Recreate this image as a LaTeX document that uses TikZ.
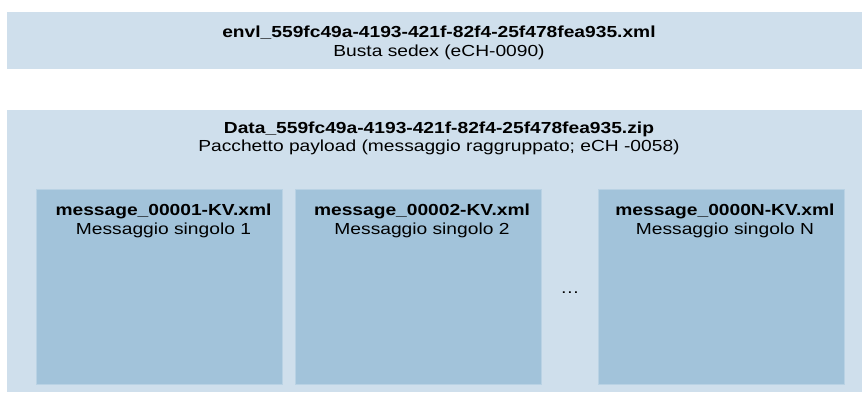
\documentclass[tikz,border=0pt]{standalone}
\usepackage{fontspec}
\setmainfont{Liberation Sans}[FakeStretch=1.2]
\usepackage{tikz}
\usetikzlibrary{positioning}

\definecolor{paleblue}{HTML}{CFDFEC}
\definecolor{msgblue}{HTML}{A2C3DA}
\definecolor{msgedge}{HTML}{B9D2E4}

\tikzset{
  panel/.style={fill=paleblue, draw=none, inner sep=0},
  msgbox/.style={fill=msgblue, draw=msgedge, line width=0.8pt, inner sep=0,
                 minimum width=246pt, minimum height=195pt},
  fname/.style={anchor=base, inner sep=0, font=\fontsize{16}{18}\selectfont\bfseries},
  fdesc/.style={anchor=base, inner sep=0, font=\fontsize{16}{18}\selectfont}
}

\begin{document}
\begin{tikzpicture}[x=1pt, y=-1pt]
  \useasboundingbox (0,0) rectangle (862,392);
  % busta sedex
          \node[panel, minimum width=855pt, minimum height=57pt](envl)  at (434.5,40.5) {};
      \node[fname](envlname)  at (439,37) {envl\_559fc49a-4193-421f-82f4-25f478fea935.xml};
      \node[fdesc](envldesc)  at (439,56) {Busta sedex (eCH-0090)};
  % pacchetto payload
          \node[panel, minimum width=855pt, minimum height=282pt](data)  at (434.5,251) {};
      \node[fname](dataname)  at (439,133) {Data\_559fc49a-4193-421f-82f4-25f478fea935.zip};
      \node[fdesc](datadesc)  at (439,151) {Pacchetto payload (messaggio raggruppato; eCH -0058)};
  % messaggi singoli
      \node[msgbox](msg1)  at (159.5,286.5) {};
      \node[msgbox](msg2)  at (418,286.5) {};
      \node[msgbox](msgN)  at (721,286.5) {};
      \node[fname](msg1name)  at (163.5,215) {message\_00001-KV.xml};
      \node[fdesc](msg1desc)  at (163.5,234) {Messaggio singolo 1};
      \node[fname](msg2name)  at (422,215) {message\_00002-KV.xml};
      \node[fdesc](msg2desc)  at (422,234) {Messaggio singolo 2};
      \node[fname](msgNname)  at (725,215) {message\_0000N-KV.xml};
      \node[fdesc](msgNdesc)  at (725,234) {Messaggio singolo N};
      \node[fdesc](dots)  at (570,293) {\dots};
\end{tikzpicture}
\end{document}
